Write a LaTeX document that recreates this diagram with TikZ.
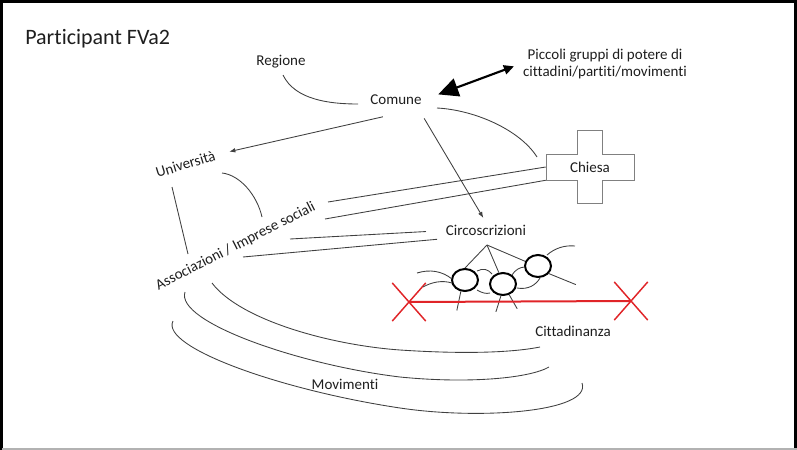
\documentclass[tikz,border=0pt]{standalone}
\usepackage{fontspec}
\setmainfont{Carlito}[Ligatures={NoCommon,NoContextual}]
\usetikzlibrary{shapes, positioning, arrows.meta}

\definecolor{ink}{RGB}{30,30,30}
\definecolor{crossred}{RGB}{224,36,40}

\tikzset{
  lbl/.style={text=ink, font=\fontsize{11.25}{13.1}\selectfont, inner sep=2pt},
  stroke/.style={draw=black!75, line width=0.65pt},
  link/.style={stroke, -{Latex[length=4.5pt,width=3.5pt]}},
  grp/.style={ellipse, draw=black, line width=1.5pt, minimum width=19.5pt, minimum height=16.5pt, inner sep=0pt},
  redx/.style={cross out, draw=crossred, line width=1.1pt, minimum width=24pt, minimum height=27.5pt, inner sep=0pt},
}

\begin{document}
\begin{tikzpicture}[x=0.75pt, y=-0.75pt]
  \useasboundingbox (0,0) rectangle (797,450);

  % slide frame
  \draw[line width=2pt] (1.35,450) -- (1.35,1.6);
  \draw[line width=2.4pt] (0,1.6) -- (797,1.6);
  \draw[line width=1.8pt] (795.5,0) -- (795.5,448);
  \draw[black!30, line width=1.3pt] (2,449.2) -- (797,449.2);

  \node[lbl, anchor=base west, font=\fontsize{16.5}{20}\selectfont, inner sep=0pt] (title) at (25,44.5) {Participant FVa2};

  \node[lbl, anchor=base] (regione) at (281,65) {Regione};
  \node[lbl, anchor=base] (comune) at (396,104.3) {Comune};
  \node[lbl, align=center] (piccoli) at (605,64) {Piccoli gruppi di potere di\\cittadini/partiti/movimenti};
  \node[lbl, anchor=base, rotate=17] (universita) at (187,169) {Università};
  \node[lbl, anchor=base, rotate=27] (assoc) at (237.5,250) {Associazioni / Imprese sociali};
  \node[lbl, minimum width=66pt, minimum height=19.5pt, inner sep=0pt] (chiesa) at (590,167) {Chiesa};
  \node[lbl, anchor=base] (circ) at (486,235.7) {Circoscrizioni};
  \node[lbl, anchor=base] (citt) at (573,336) {Cittadinanza};
  \node[lbl, anchor=base] (movimenti) at (345,389) {Movimenti};

  % cross around Chiesa
  \draw[black!50, line width=0.75pt] (546,154) -| (577,130) -| (602,154) -| (634,180) -| (602,203) -| (577,180) -- (546,180) -- cycle;

  \node[grp] (c1) at (465,280) {};
  \node[grp] (c2) at (503,284) {};
  \node[grp] (c3) at (538,266) {};

  \node[redx] (xl) at (409,302) {};
  \node[redx] (xr) at (631,301) {};

  \coordinate (s1) at (328,202);
  \coordinate (s2) at (325,219);
  \coordinate (s3) at (290,239);
  \coordinate (s4) at (243,257);
  \coordinate (apex) at (487,245);

  % arrows from Comune
  \draw[link, shorten <=32pt, shorten >=9pt] (comune.south east) -- (universita.east);
  \draw[link, shorten <=9.6pt, shorten >=4pt] (comune.-20) -- (circ.north);
  \draw[line width=1.6pt, {Triangle[length=15pt,width=14pt]}-{Triangle[length=7.5pt,width=7pt]}, shorten <=11pt, shorten >=5pt] (comune.east) -- (piccoli.west);

  % links to Chiesa and Circoscrizioni
  \draw[stroke] (s1) -- (chiesa.west);
  \draw[stroke] (s2) -- (chiesa.south west);
  \draw[stroke, shorten >=12.8pt] (s3) -- (circ.west);
  \draw[stroke, shorten >=4.5pt] (s4) -- (circ.south west);

  % free strokes
  \draw[stroke] (283,75) .. controls (295,100) and (330,104) .. (358,104);
  \draw[stroke] (437,108) .. controls (475,110) and (520,130) .. (537,157);
  \draw[stroke] (222,173) .. controls (240,175) and (257,195) .. (262,217);
  \draw[stroke] (172,187) -- (188,254);

  % Circoscrizioni and groups
  \draw[stroke] (apex) -- (c1.north);
  \draw[stroke] (apex) -- (c2.110);
  \draw[stroke] (apex) -- (c3.160);
  \draw[stroke] (c3.-35) -- ++(27,11);
  \draw[stroke] (c1.-110) -- ++(-4,19);
  \draw[stroke] (c2.-100) -- ++(-5,16);
  \draw[stroke] (c2.-60) -- ++(8,14);
  \draw[stroke] (417,273) .. controls (430,269) and (442,271) .. (452,279);
  \draw[stroke] (423,287) .. controls (432,282) and (442,280) .. (452,283);
  \draw[stroke] (477,271) .. controls (483,268) and (488,269) .. (492,274);
  \draw[stroke] (477,290) .. controls (482,293) and (486,294) .. (490,293);
  \draw[stroke] (512,275) .. controls (515,270) and (520,267) .. (525,267);
  \draw[stroke] (517,288) .. controls (528,290) and (536,285) .. (540,278);
  \draw[stroke] (547,255) .. controls (555,248) and (565,245) .. (575,246);

  \draw[crossred, line width=1.5pt] (xl.center) -- (xr.center);

  % Movimenti
  \draw[stroke] (212,283) .. controls (240,320) and (330,345) .. (400,350) .. controls (460,354) and (510,353) .. (540,347);
  \draw[stroke] (185,292) .. controls (175,322) and (300,365) .. (400,377) .. controls (470,384) and (530,378) .. (549,367);
  \draw[stroke] (173,321) .. controls (160,347) and (280,390) .. (400,408) .. controls (480,420) and (592,412) .. (582,383);
\end{tikzpicture}
\end{document}
